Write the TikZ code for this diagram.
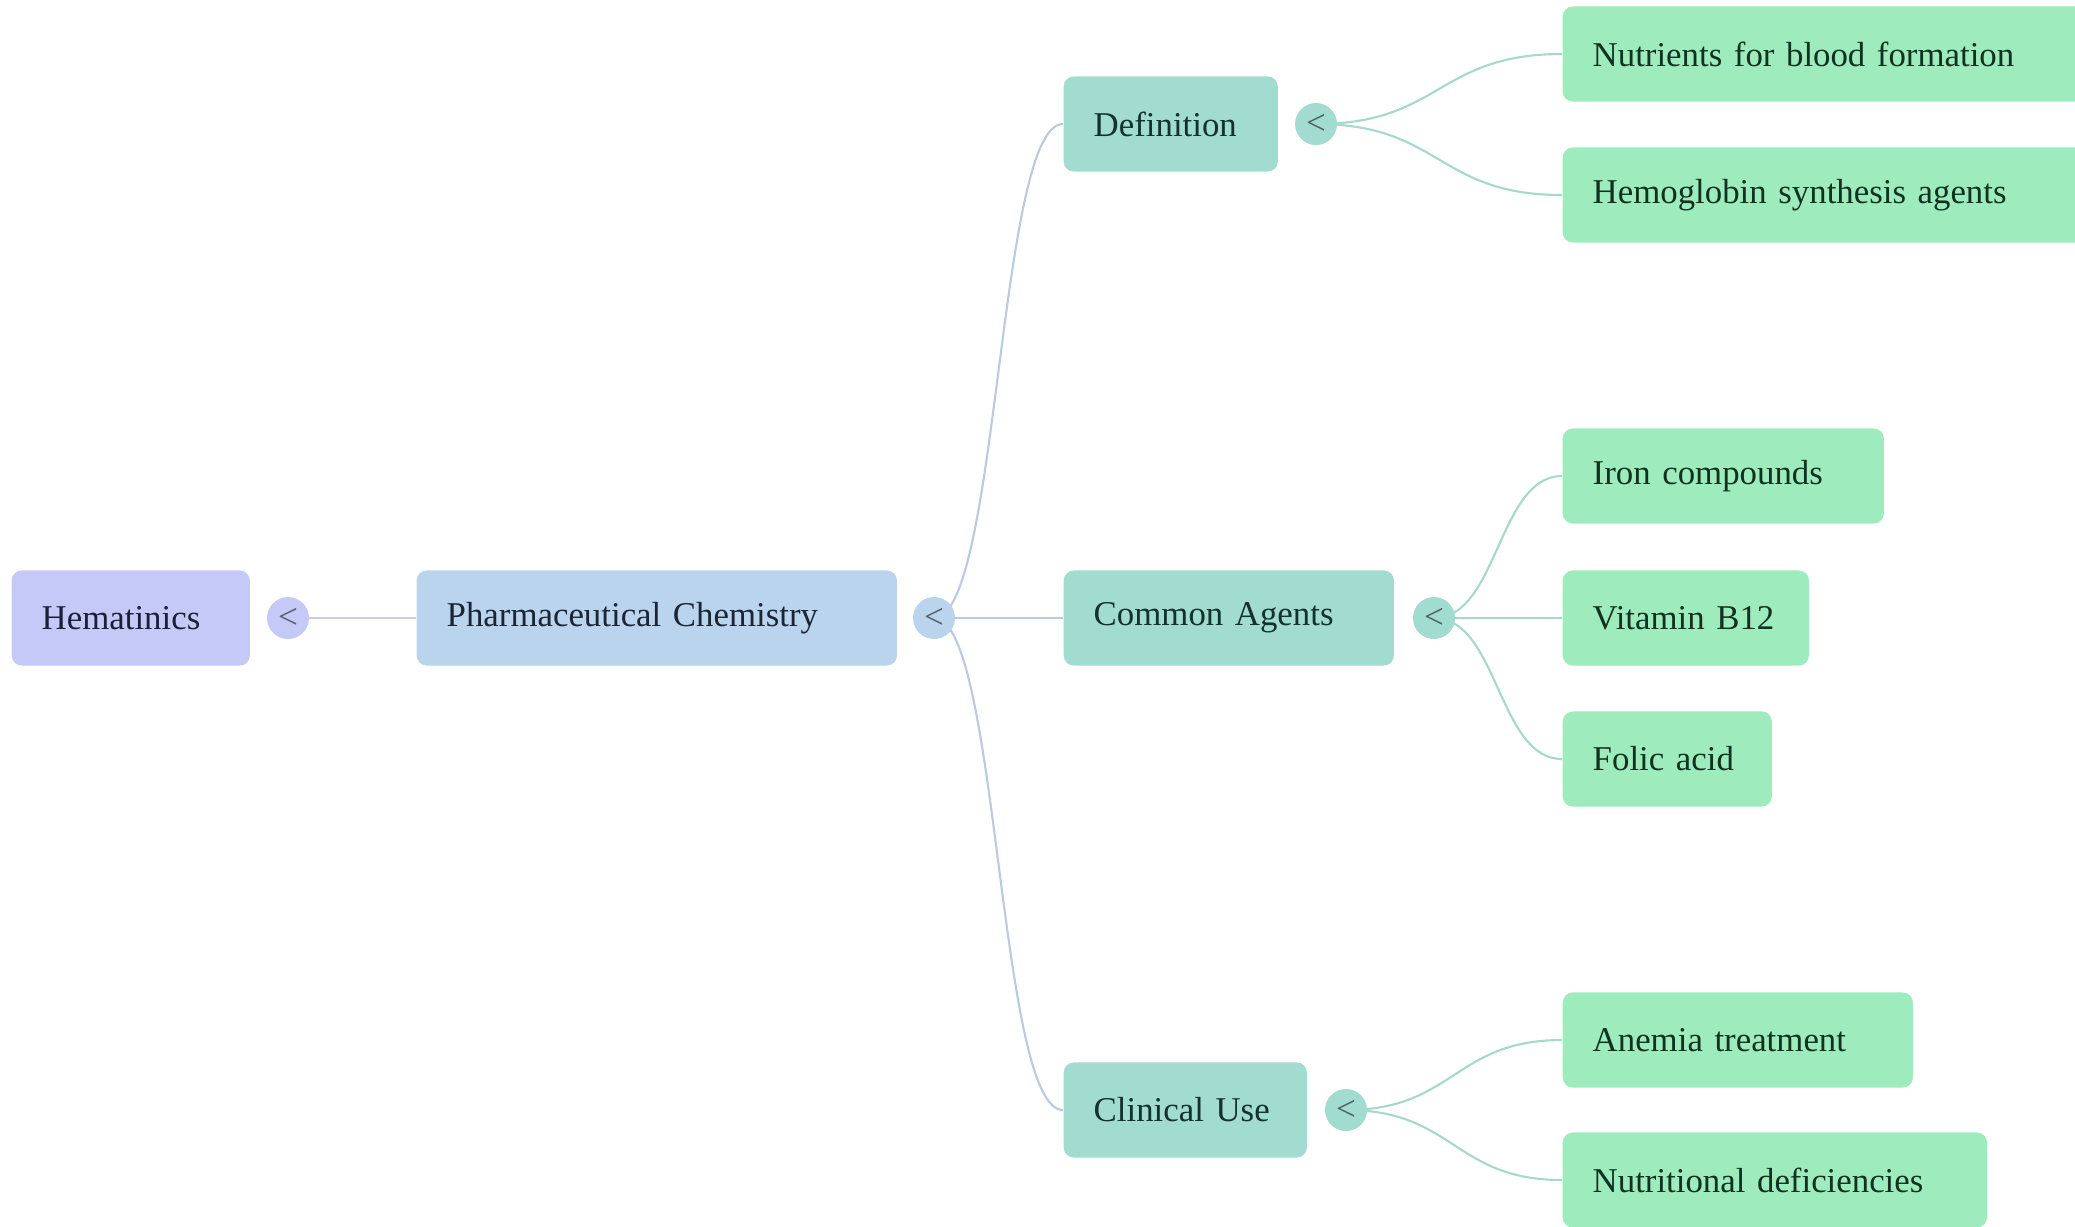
\documentclass[tikz,border=0pt]{standalone}
\usepackage{fontspec}
\setmainfont{Liberation Serif}
\usetikzlibrary{backgrounds}
\definecolor{hemfill}{HTML}{C5C9F8}
\definecolor{chemfill}{HTML}{BBD4EE}
\definecolor{topicfill}{HTML}{A2DBD0}
\definecolor{leaffill}{HTML}{9EECBD}
\definecolor{hemline}{HTML}{C8CCEE}
\definecolor{chemline}{HTML}{BCC9E0}
\definecolor{topicline}{HTML}{A6D9CB}
\definecolor{hemtext}{HTML}{1C1F3A}
\definecolor{chemtext}{HTML}{1A2636}
\definecolor{topictext}{HTML}{12332C}
\definecolor{leaftext}{HTML}{0F331E}
\begin{document}
\begin{tikzpicture}[x=0.01cm, y=-0.01cm,
    box/.style={rounded corners=0.1cm, minimum height=0.95cm, inner xsep=0.3cm,
      inner ysep=0pt, align=left, anchor=west, font=\fontsize{9.9}{12}\selectfont},
    toggle/.style={circle, minimum size=0.42cm, inner sep=0pt, text=#1!45!black,
      font=\fontsize{10}{12}\selectfont},
    root/.style={box, fill=hemfill, text=hemtext},
    branch/.style={box, fill=chemfill, text=chemtext},
    topic/.style={box, fill=topicfill, text=topictext},
    leaf/.style={box, fill=leaffill, text=leaftext},
    link/.style={line width=0.6pt, #1}]
      \useasboundingbox (0,0) rectangle (2075,1226);
      \draw
        (11,618) node[root, text width=1.78cm] (hem){Hematinics}
        (288,618) node[toggle=hemfill, fill=hemfill] (hemc){<}
        (416,618) node[branch, text width=4.2cm] (chem){Pharmaceutical Chemistry}
        (934,618) node[toggle=chemfill, fill=chemfill] (chemc){<}
        (1063,124) node[topic, text width=1.54cm] (def){Definition}
        (1316,124) node[toggle=topicfill, fill=topicfill] (defc){<}
        (1063,618) node[topic, text width=2.7cm] (agents){Common Agents}
        (1434,618) node[toggle=topicfill, fill=topicfill] (agentsc){<}
        (1063,1110) node[topic, text width=1.83cm] (clin){Clinical Use}
        (1346,1110) node[toggle=topicfill, fill=topicfill] (clinc){<}
        (1562,54) node[leaf, text width=4.8cm] (nutr){Nutrients for blood formation}
        (1562,195) node[leaf, text width=4.8cm] (hemo){Hemoglobin synthesis agents}
        (1562,476) node[leaf, text width=2.61cm] (iron){Iron compounds}
        (1562,618) node[leaf, text width=1.86cm] (vit){Vitamin B12}
        (1562,759) node[leaf, text width=1.49cm] (folic){Folic acid}
        (1562,1040) node[leaf, text width=2.9cm] (anemia){Anemia treatment}
        (1562,1180) node[leaf, text width=3.64cm] (defic){Nutritional deficiencies};
      \begin{scope}[on background layer]
        \draw[link=hemline] (hemc.center) -- (chem.west);
        \draw[link=chemline] (chemc.center) .. controls +(65,0) and +(-65,0) .. (def.west);
        \draw[link=chemline] (chemc.center) -- (agents.west);
        \draw[link=chemline] (chemc.center) .. controls +(65,0) and +(-65,0) .. (clin.west);
        \draw[link=topicline] (defc.center) .. controls +(125,0) and +(-125,0) .. (nutr.west);
        \draw[link=topicline] (defc.center) .. controls +(125,0) and +(-125,0) .. (hemo.west);
        \draw[link=topicline] (agentsc.center) .. controls +(64,0) and +(-64,0) .. (iron.west);
        \draw[link=topicline] (agentsc.center) -- (vit.west);
        \draw[link=topicline] (agentsc.center) .. controls +(64,0) and +(-64,0) .. (folic.west);
        \draw[link=topicline] (clinc.center) .. controls +(108,0) and +(-108,0) .. (anemia.west);
        \draw[link=topicline] (clinc.center) .. controls +(108,0) and +(-108,0) .. (defic.west);
      \end{scope}
    \end{tikzpicture}
\end{document}
